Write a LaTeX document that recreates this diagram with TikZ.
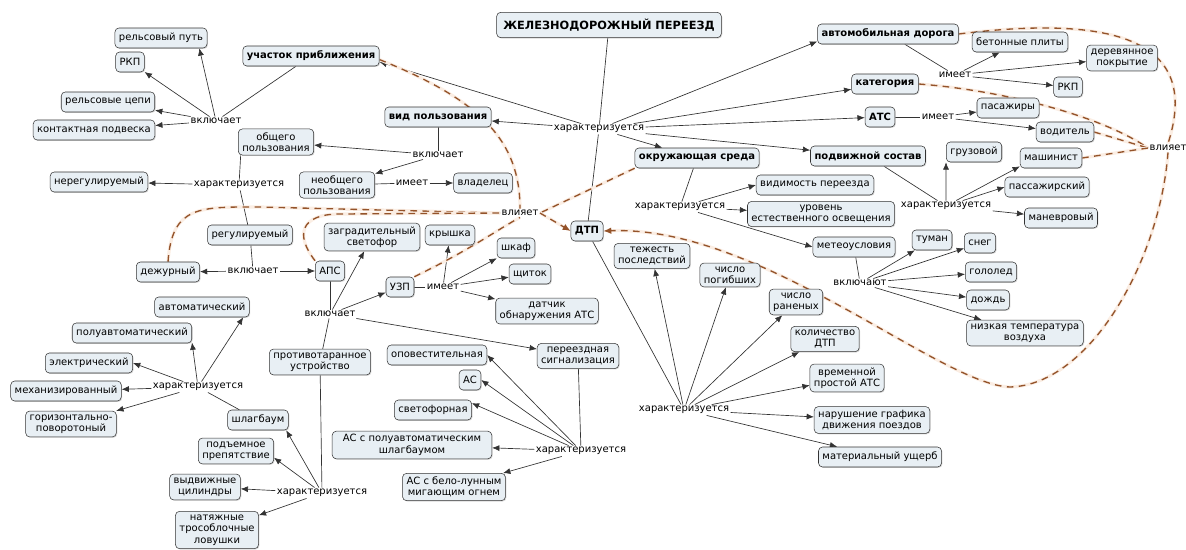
\documentclass[tikz,border=0pt]{standalone}
\usepackage{fontspec}
\setmainfont{DejaVu Sans}
\usetikzlibrary{arrows.meta,shadows,backgrounds}
\definecolor{boxfill}{HTML}{E8EFF4}
\definecolor{inflcol}{HTML}{94532A}
\definecolor{glowcol}{HTML}{FBEEE4}
\begin{document}
\begin{tikzpicture}[x=0.75pt,y=-0.75pt,
 every node/.style={font=\fontsize{7.5}{8.6}\selectfont},
 box/.style={draw=black!80,fill=boxfill,rounded corners=3pt,align=center,inner xsep=3pt,inner ysep=2.5pt,minimum height=15pt,
  drop shadow={shadow xshift=0.7pt,shadow yshift=-0.7pt,fill=black!30}},
 bbox/.style={box,font=\fontsize{7.5}{8.6}\selectfont\bfseries},
 lnk/.style={fill=white,inner sep=1pt},
 con/.style={draw=black!80,line width=0.5pt},
 arr/.style={con,-{Latex[length=5.5pt,width=4.5pt]}},
 infl/.style={draw=inflcol,dash pattern=on 5pt off 4pt,line width=1pt,
  preaction={draw=glowcol,line width=2.4pt,solid}},
 inflarr/.style={infl,-{Latex[length=6pt,width=5pt]}},
]
\useasboundingbox (0,0) rectangle (1186,550);

\node[bbox,font=\fontsize{8.5}{10}\selectfont\bfseries,inner xsep=5pt,minimum height=19pt] (zp) at (609,25) {ЖЕЛЕЗНОДОРОЖНЫЙ ПЕРЕЕЗД};
\node[lnk] (harZp) at (599,129) {характеризуется};

\node[bbox] (uch) at (311,56) {участок приближения};
\node[lnk] (vkUch) at (216,121) {включает};
\node[box] (rput) at (161,38) {рельсовый путь};
\node[box] (rkpA) at (130,62) {РКП};
\node[box] (rcep) at (108,102) {рельсовые цепи};
\node[box] (kpod) at (94,130) {контактная подвеска};

\node[bbox] (vid) at (438,117) {вид пользования};
\node[lnk] (vkVid) at (438,155) {включает};
\node[box] (obsh) at (276,142) {общего\\пользования};
\node[box] (neob) at (337,185) {необщего\\пользования};
\node[lnk] (imVl) at (412,183) {имеет};
\node[box] (vlad) at (483,183) {владелец};
\node[lnk] (harOb) at (239,185) {характеризуется};
\node[box] (nereg) at (99,182) {нерегулируемый};
\node[box] (reg) at (250,235) {регулируемый};
\node[lnk] (vkReg) at (253,271) {включает};
\node[box] (dezh) at (168,272) {дежурный};
\node[box] (aps) at (330,271) {АПС};
\node[lnk] (vkAps) at (330,314) {включает};
\node[box] (zagr) at (372,237) {заградительный\\светофор};
\node[box] (uzp) at (400,287) {УЗП};
\node[lnk] (imUzp) at (443,287) {имеет};
\node[box] (kr) at (450,235) {крышка};
\node[box] (shk) at (516,248) {шкаф};
\node[box] (shch) at (530,274) {щиток};
\node[box] (dat) at (547,311) {датчик\\обнаружения АТС};
\node[box] (pers) at (578,356) {переездная\\сигнализация};
\node[box] (prot) at (320,362) {противотаранное\\устройство};
\node[lnk] (harProt) at (322,493) {характеризуется};
\node[box] (shl) at (258,420) {шлагбаум};
\node[lnk] (harShl) at (198,387) {характеризуется};
\node[box] (avt) at (202,307) {автоматический};
\node[box] (pavt) at (132,333) {полуавтоматический};
\node[box] (el) at (89,363) {электрический};
\node[box] (meh) at (66,391) {механизированный};
\node[box] (gor) at (71,424) {горизонтально-\\поворотоный};
\node[box] (podp) at (236,451) {подъемное\\препятствие};
\node[box] (vyd) at (205,487) {выдвижные\\цилиндры};
\node[box] (nat) at (217,530) {натяжные\\трособлочные\\ловушки};
\node[lnk] (harSig) at (581,451) {характеризуется};
\node[box] (opov) at (437,355) {оповестительная};
\node[box] (as) at (470,380) {АС};
\node[box] (svet) at (433,410) {светофорная};
\node[box,inner xsep=8pt] (aspol) at (412,445) {АС с полуавтоматическим\\шлагбаумом};
\node[box] (asbel) at (454,487) {АС с бело-лунным\\мигающим огнем};

\node[lnk,fill=none] (vl) at (520,213) {влияет};
\node[bbox] (dtp) at (587,231) {ДТП};
\node[lnk] (harDtp) at (684,410) {характеризуется};
\node[box] (tyazh) at (652,256) {тежесть\\последствий};
\node[box] (pog) at (730,275) {число\\погибших};
\node[box] (ran) at (796,302) {число\\раненых};
\node[box] (kol) at (825,339) {количество\\ДТП};
\node[box] (vrem) at (847,378) {временной\\простой АТС};
\node[box] (nar) at (872,420) {нарушение графика\\движения поездов};
\node[box] (mat) at (880,457) {материальный ущерб};

\node[bbox] (okr) at (697,158) {окружающая среда};
\node[lnk] (harOkr) at (680,207) {характеризуется};
\node[box] (vidim) at (815,185) {видимость переезда};
\node[box] (urov) at (821,214) {уровень\\естественного освещения};
\node[box] (meteo) at (854,247) {метеоусловия};
\node[lnk] (vkMet) at (860,283) {включают};
\node[box] (tum) at (932,240) {туман};
\node[box] (sneg) at (980,243) {снег};
\node[box] (gol) at (991,272) {гололед};
\node[box] (dozh) at (988,300) {дождь};
\node[box] (niz) at (1025,333) {низкая температура\\воздуха};

\node[bbox] (avto) at (888,34) {автомобильная дорога};
\node[lnk] (imAvto) at (955,75) {имеет};
\node[box] (bet) at (1020,42) {бетонные плиты};
\node[box] (der) at (1122,58) {деревянное\\покрытие};
\node[box] (rkpB) at (1068,87) {РКП};
\node[bbox] (kat) at (885,84) {категория};
\node[bbox] (ats) at (880,117) {АТС};
\node[lnk] (imAts) at (938,117) {имеет};
\node[box] (pas) at (1008,108) {пасажиры};
\node[box] (vod) at (1065,132) {водитель};
\node[bbox] (pods) at (868,156) {подвижной состав};
\node[lnk] (harPods) at (946,206) {характеризуется};
\node[box] (gruz) at (974,152) {грузовой};
\node[box] (mash) at (1051,158) {машинист};
\node[box] (pass) at (1047,187) {пассажирский};
\node[box] (man) at (1061,218) {маневровый};
\node[lnk,fill=none] (vlR) at (1168,148) {влияет};

\begin{scope}[on background layer]
\draw[con] (zp) -- (harZp);
\draw[con] (harZp) -- (dtp);
\draw[arr] (harZp) -- (uch.-5);
\draw[arr] (harZp) -- (vid);
\draw[arr] (harZp) -- (avto.186);
\draw[arr] (harZp) -- (kat);
\draw[arr] (harZp) -- (ats);
\draw[arr] (harZp) -- (pods);
\draw[arr] (harZp) -- (okr);

\draw[con] (uch) -- (vkUch);
\draw[arr] (vkUch) -- (rput.-15);
\draw[arr] (vkUch) -- (rkpA);
\draw[arr] (vkUch) -- (rcep);
\draw[arr] (vkUch) -- (kpod);

\draw[con] (vid) -- (vkVid);
\draw[arr] (vkVid) -- (obsh);
\draw[arr] (vkVid) -- (neob);
\draw[con] (neob) -- (imVl);
\draw[arr] (imVl) -- (vlad);
\draw[con] ([xshift=2pt]obsh.south west) -- (harOb);
\draw[arr] (harOb) -- (nereg);
\draw[con] (harOb) -- (reg);
\draw[con] (reg) -- (vkReg);
\draw[arr] (vkReg) -- (dezh);
\draw[arr] (vkReg) -- (aps);
\draw[con] (aps) -- (vkAps);
\draw[arr] (vkAps) -- (zagr);
\draw[arr] (vkAps) -- (uzp);
\draw[arr] (vkAps) -- (pers);
\draw[con] (vkAps) -- (prot);
\draw[con] (uzp) -- (imUzp);
\draw[arr] (imUzp) -- (kr);
\draw[arr] (imUzp) -- (shk);
\draw[arr] (imUzp) -- (shch);
\draw[arr] (imUzp) -- (dat);

\draw[con] (prot) -- (harProt);
\draw[arr] (harProt) -- (shl.-20);
\draw[arr] (harProt) -- (podp.-10);
\draw[arr] (harProt) -- (vyd);
\draw[arr] (harProt) -- (nat);
\draw[con] (shl) -- (harShl);
\draw[arr] (harShl) -- (avt.-14);
\draw[arr] (harShl) -- (pavt.-9);
\draw[arr] (harShl) -- (el.east);
\draw[arr] (harShl) -- (meh);
\draw[arr] (harShl) -- (gor);

\draw[con] (pers) -- (harSig);
\draw[arr] (harSig) -- (opov.east);
\draw[arr] (harSig) -- (as.east);
\draw[arr] (harSig) -- (svet.10);
\draw[arr] (harSig) -- (aspol);
\draw[arr] (harSig) -- (asbel);

\draw[con] (dtp) -- (harDtp);
\draw[arr] (harDtp) -- (tyazh);
\draw[arr] (harDtp) -- (pog);
\draw[arr] (harDtp) -- (ran);
\draw[arr] (harDtp) -- (kol);
\draw[arr] (harDtp) -- (vrem);
\draw[arr] (harDtp) -- (nar);
\draw[arr] (harDtp) -- (mat);

\draw[con] (okr) -- (harOkr);
\draw[arr] (harOkr) -- (vidim.west);
\draw[arr] (harOkr) -- (urov);
\draw[arr] (harOkr) -- (meteo.west);
\draw[con] (meteo) -- (vkMet);
\draw[arr] (vkMet) -- (tum);
\draw[arr] (vkMet) -- (sneg);
\draw[arr] (vkMet) -- (gol);
\draw[arr] (vkMet) -- (dozh);
\draw[arr] (vkMet) -- (niz);

\draw[con] (avto) -- (imAvto);
\draw[arr] (imAvto) -- (bet);
\draw[arr] (imAvto) -- (der);
\draw[arr] (imAvto) -- (rkpB);
\draw[con] (ats) -- (imAts);
\draw[arr] (imAts) -- (pas);
\draw[arr] (imAts) -- (vod);
\draw[con] (pods) -- (harPods);
\draw[arr] (harPods) -- (gruz.south west);
\draw[arr] (harPods) -- (mash.195);
\draw[arr] (harPods) -- (pass.west);
\draw[arr] (harPods) -- (man);

\draw[infl] (uch.-3) .. controls (480,100) and (520,140) .. (vl.north);
\draw[infl] (dezh.north) .. controls (172,205) and (200,207) .. (260,207) -- (vl.west);
\draw[infl] (aps.north west) .. controls (295,235) and (300,214) .. (340,214) -- (vl.west);
\draw[infl] (uzp.north east) .. controls (470,250) and (500,228) .. (vl.south);
\draw[infl] (okr.south west) -- (vl.east);
\draw[inflarr] (vl.east) -- (dtp.west);
\draw[infl] (avto.east) .. controls (1150,10) and (1195,60) .. (vlR.north);
\draw[infl] (kat.east) .. controls (1000,90) and (1100,115) .. (vlR.west);
\draw[infl] (vod.east) -- (vlR.west);
\draw[infl] (mash.east) -- (vlR.west);
\draw[inflarr] (vlR.south) .. controls (1160,260) and (1090,385) .. (1010,387) .. controls (940,385) and (760,225) .. (dtp.east);
\end{scope}
\end{tikzpicture}
\end{document}
